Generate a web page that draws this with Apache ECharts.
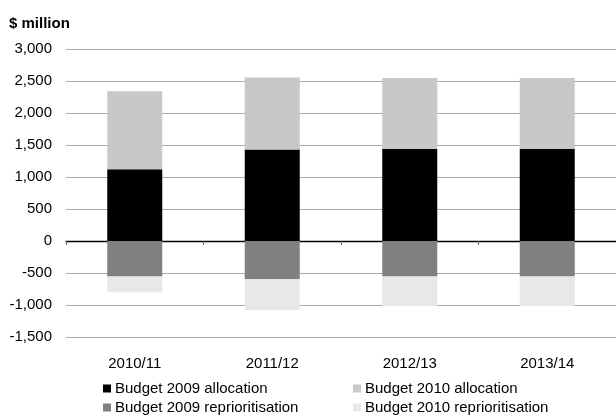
<!DOCTYPE html>
<html>
<head>
<meta charset="utf-8">
<script src="https://cdn.jsdelivr.net/npm/echarts@6/dist/echarts.min.js"></script>
<style>
  html, body { margin: 0; padding: 0; background: #fff; }
  #chart { width: 616px; height: 418px; }
</style>
</head>
<body>
<div id="chart"></div>
<script>
// Financial years
const categories = ['2010/11', '2011/12', '2012/13', '2013/14'];

// $ million, per year
const budget2009Allocation = [1120, 1430, 1440, 1440];
const budget2010Allocation = [1220, 1125, 1105, 1105];
const budget2009Reprioritisation = [-555, -595, -555, -555];
const budget2010Reprioritisation = [-245, -485, -460, -460];

// Value axis ticks
const yMin = -1500;
const yMax = 3000;
const yStep = 500;

const seriesNames = [
  'Budget 2009 allocation',
  'Budget 2010 allocation',
  'Budget 2009 reprioritisation',
  'Budget 2010 reprioritisation'
];

const font = 'Liberation Sans, Arial, sans-serif';
const fmt = v => (v < 0 ? '-' : '') + Math.abs(v).toString().replace(/\B(?=(\d{3})+(?!\d))/g, ',');

const chart = echarts.init(document.getElementById('chart'), null, { renderer: 'canvas' });

function bar(name, data, color) {
  return {
    name: name,
    type: 'bar',
    stack: 'total',
    data: data,
    barWidth: 55,
    itemStyle: { color: color },
    emphasis: { disabled: true },
    animation: false
  };
}

const legendCommon = {
  orient: 'vertical',
  top: 381,
  itemWidth: 8,
  itemHeight: 8,
  itemGap: 4,
  icon: 'rect',
  selectedMode: false,
  textStyle: { fontFamily: font, fontSize: 15, color: '#000', padding: [0, 0, 0, -1] },
  padding: 0
};

chart.setOption({
  animation: false,
  textStyle: { fontFamily: font },
  title: {
    text: '$ million',
    left: 9,
    top: 16,
    padding: 0,
    textStyle: { fontFamily: font, fontSize: 15, fontWeight: 'bold', color: '#000' }
  },
  legend: [
    Object.assign({ left: 103, data: [seriesNames[0], seriesNames[2]] }, legendCommon),
    Object.assign({ left: 353, data: [seriesNames[1], seriesNames[3]] }, legendCommon)
  ],
  grid: { left: 66, top: 49, width: 555, height: 288 },
  xAxis: [
    {
      type: 'category',
      data: categories,
      axisLine: { onZero: true, lineStyle: { color: '#000', width: 1.3 } },
      axisTick: { show: true, length: 4, lineStyle: { color: '#666' } },
      axisLabel: { show: false },
      splitLine: { show: false }
    },
    {
      type: 'category',
      data: categories,
      position: 'bottom',
      gridIndex: 0,
      axisLine: { show: false, onZero: false },
      axisTick: { show: false },
      axisLabel: { margin: 19, fontFamily: font, fontSize: 15, color: '#000' }
    }
  ],
  yAxis: {
    type: 'value',
    min: yMin,
    max: yMax,
    interval: yStep,
    axisLine: { show: false },
    axisTick: { show: false },
    axisLabel: { margin: 14, fontFamily: font, fontSize: 15, color: '#000', formatter: fmt },
    splitLine: { lineStyle: { color: '#aaaaaa', width: 1 } }
  },
  series: [
    bar(seriesNames[0], budget2009Allocation, '#000000'),
    bar(seriesNames[1], budget2010Allocation, '#c8c8c8'),
    bar(seriesNames[2], budget2009Reprioritisation, '#808080'),
    bar(seriesNames[3], budget2010Reprioritisation, '#e8e8e8')
  ]
});
</script>
</body>
</html>
